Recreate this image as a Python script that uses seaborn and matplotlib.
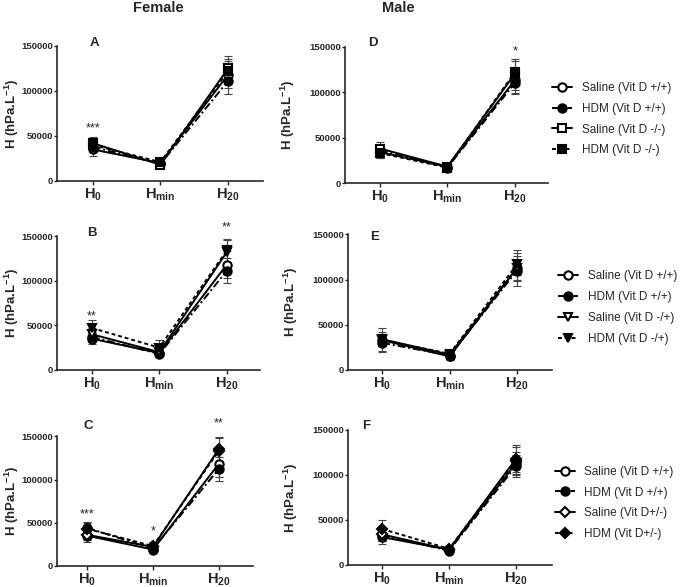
import matplotlib
matplotlib.use('Agg')

import matplotlib.pyplot as plt
import seaborn as sns
import pandas as pd
from matplotlib.lines import Line2D

# ---- data ----
TIMES = [r'$\mathbf{H_0}$', r'$\mathbf{H_{min}}$', r'$\mathbf{H_{20}}$']
X = [0, 1, 2]

LABELS_1 = ['Saline (Vit D +/+)', 'HDM (Vit D +/+)', 'Saline (Vit D -/-)', 'HDM (Vit D -/-)']
LABELS_2 = ['Saline (Vit D +/+)', 'HDM (Vit D +/+)', 'Saline (Vit D -/+)', 'HDM (Vit D -/+)']
LABELS_3 = ['Saline (Vit D +/+)', 'HDM (Vit D +/+)', 'Saline (Vit D+/-)', 'HDM (Vit D+/-)']

# Female
A_mean = [[35000, 20000, 118000], [38000, 19000, 111000], [42000, 18000, 125000], [40000, 21000, 122000]]
A_err = [[7000, 3000, 15000], [6000, 3000, 14000], [7000, 3000, 14000], [6000, 3000, 13000]]
B_mean = [[35000, 19000, 118000], [37000, 18000, 111000], [40000, 20000, 132000], [47000, 25000, 134000]]
B_err = [[6000, 3000, 15000], [6000, 3000, 14000], [7000, 4000, 14000], [9000, 9000, 13000]]
C_mean = [[35000, 19000, 118000], [44000, 20000, 112000], [36000, 22000, 135000], [43000, 23000, 133000]]
C_err = [[7000, 3000, 15000], [7000, 3000, 14000], [6000, 4000, 14000], [7000, 5000, 15000]]
# Male
D_mean = [[34000, 18000, 113000], [36000, 17000, 110000], [38000, 18000, 120000], [33000, 17000, 122000]]
D_err = [[6000, 3000, 14000], [5000, 3000, 12000], [7000, 3000, 17000], [5000, 3000, 12000]]
E_mean = [[33000, 15000, 113000], [30000, 16000, 110000], [34000, 17000, 113000], [33000, 18000, 117000]]
E_err = [[13000, 4000, 13000], [9000, 4000, 12000], [8000, 5000, 20000], [7000, 4000, 12000]]
F_mean = [[31000, 17000, 113000], [33000, 16000, 110000], [34000, 17000, 118000], [40000, 18000, 116000]]
F_err = [[8000, 3000, 13000], [6000, 3000, 12000], [7000, 3000, 15000], [10000, 3000, 15000]]

# significance stars: (x index, text, y value)
A_stars = [(0, '***', 58000)]
B_stars = [(0, '**', 60000), (2, '**', 160000)]
C_stars = [(0, '***', 60000), (1, '*', 40000), (2, '**', 165000)]
D_stars = [(2, '*', 145000)]

sns.set_style('ticks')
plt.rcParams['font.family'] = ['Liberation Sans', 'DejaVu Sans']
plt.rcParams['mathtext.fontset'] = 'custom'
plt.rcParams['mathtext.rm'] = 'Liberation Sans'
plt.rcParams['mathtext.bf'] = 'Liberation Sans:bold'
plt.rcParams['mathtext.it'] = 'Liberation Sans:italic'

fig = plt.figure(figsize=(6.85, 5.87), dpi=100)

STYLES = [('-', 'o', 'white'), ((0, (4, 1.5, 1, 1.5)), 'o', 'black'),
          ('-', None, 'white'), ((0, (2, 1.5)), None, 'black')]


def draw_panel(rect, xlim, means, errs, labels, marker2, letter, letter_xy, ylab_x, stars,
               legend_at=None):
    ax = fig.add_axes(rect)
    handles = []
    for i, (m, e) in enumerate(zip(means, errs)):
        ls, mk, fc = STYLES[i]
        mk = mk or marker2
        ms = 5 if mk == 'D' else 6
        df = pd.DataFrame({'t': X, 'H': m})
        ax.errorbar(X, m, yerr=e, fmt='none', ecolor='#444444', elinewidth=0.8,
                    capsize=3, capthick=0.8, zorder=1)
        sns.lineplot(data=df, x='t', y='H', ax=ax, color='black', linestyle=ls,
                     linewidth=1.4, marker=mk, markersize=ms, markerfacecolor=fc,
                     markeredgecolor='black', markeredgewidth=1.5, zorder=3)
        handles.append(Line2D([], [], color='black', linestyle=ls, linewidth=1.4,
                              marker=mk, markersize=ms, markerfacecolor=fc,
                              markeredgecolor='black', markeredgewidth=1.5, label=labels[i]))
    ax.set_xlim(*xlim)
    ax.set_ylim(0, 150000)
    ax.set_xticks(X)
    ax.set_xticklabels(TIMES, fontsize=10.5)
    ax.set_yticks([0, 50000, 100000, 150000])
    ax.set_yticklabels(['0', '50000', '100000', '150000'], fontsize=6.8, fontweight='bold')
    ax.tick_params(axis='y', length=2.5, width=1, pad=0.5)
    ax.tick_params(axis='x', length=3, width=1, pad=1)
    ax.set_xlabel('')
    ax.set_ylabel(r'H (hPa.L$^{\mathbf{-1}}$)', fontsize=9.5, fontweight='bold')
    ax.yaxis.set_label_coords(ylab_x, 0.5)
    sns.despine(ax=ax)
    for sp in ('left', 'bottom'):
        ax.spines[sp].set_linewidth(1.2)
    ax.text(letter_xy[0], letter_xy[1], letter, transform=ax.transAxes, fontsize=9.5,
            fontweight='bold', va='center', ha='center')
    for xi, s, yv in stars:
        ax.text(xi, yv, s, ha='center', va='center', fontsize=9, clip_on=False)
    if legend_at is not None:
        fig.legend(handles=handles, loc='center left', bbox_to_anchor=legend_at,
                   frameon=False, fontsize=8.5, handlelength=1.7, handletextpad=0.8,
                   labelspacing=0.75, borderaxespad=0, borderpad=0)
    return ax


draw_panel([0.0832, 0.6917, 0.301, 0.230], (-0.53, 2.52), A_mean, A_err, LABELS_1, 's', 'A',
           (0.18, 1.02), -0.175, A_stars)
draw_panel([0.0832, 0.3697, 0.297, 0.228], (-0.52, 2.50), B_mean, B_err, LABELS_2, 'v', 'B',
           (0.17, 1.02), -0.178, B_stars)
draw_panel([0.0832, 0.0358, 0.286, 0.221], (-0.46, 2.52), C_mean, C_err, LABELS_3, 'D', 'C',
           (0.16, 1.08), -0.184, C_stars)
draw_panel([0.5036, 0.6882, 0.296, 0.232], (-0.52, 2.49), D_mean, D_err, LABELS_1, 's', 'D',
           (0.14, 1.03), -0.235, D_stars, legend_at=(0.806, 0.797))
draw_panel([0.5080, 0.3697, 0.298, 0.231], (-0.51, 2.52), E_mean, E_err, LABELS_2, 'v', 'E',
           (0.13, 0.98), -0.235, [], legend_at=(0.815, 0.476))
draw_panel([0.5080, 0.0375, 0.298, 0.230], (-0.51, 2.54), F_mean, F_err, LABELS_3, 'D', 'F',
           (0.09, 1.03), -0.235, [], legend_at=(0.810, 0.143))

fig.text(0.231, 0.986, 'Female', ha='center', va='center', fontsize=10.5, fontweight='bold')
fig.text(0.581, 0.986, 'Male', ha='center', va='center', fontsize=10.5, fontweight='bold')

fig.savefig('out.png', dpi=100)
plt.close(fig)
